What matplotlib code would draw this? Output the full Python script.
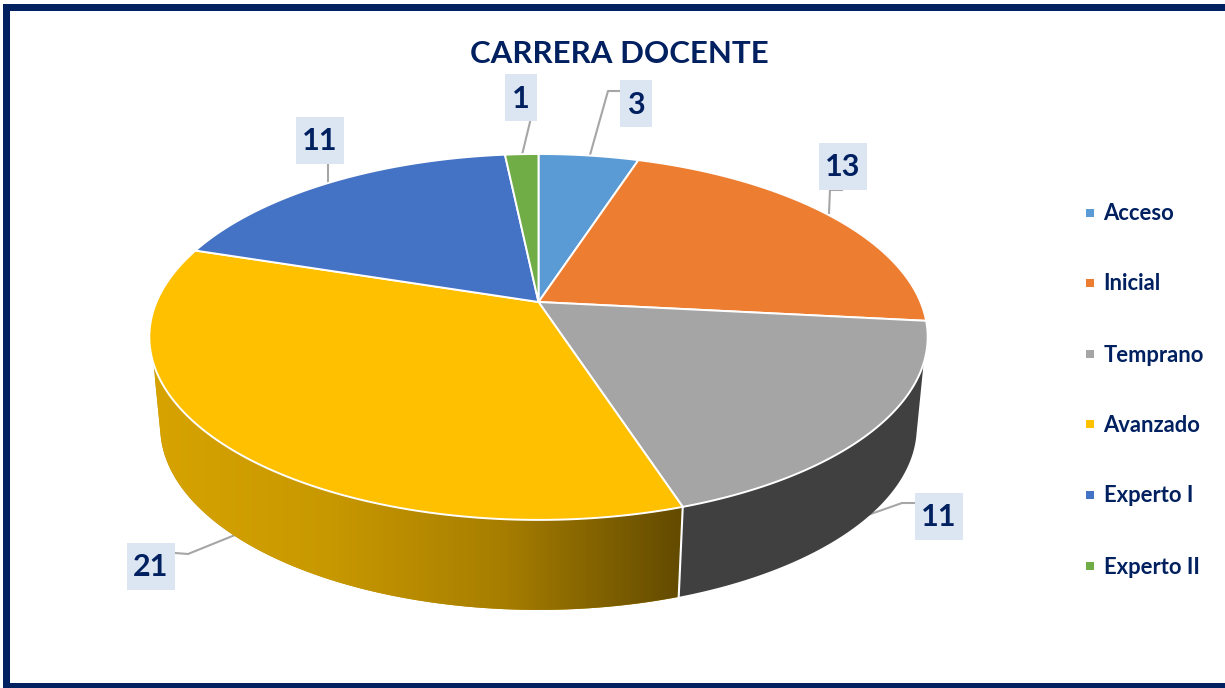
import numpy as np
import matplotlib
matplotlib.use("Agg")
import matplotlib.pyplot as plt
from matplotlib.patches import Polygon, Rectangle
from matplotlib.colors import LinearSegmentedColormap

plt.rcParams["font.family"] = ["Lato", "DejaVu Sans"]

# datos
categorias = ["Acceso", "Inicial", "Temprano", "Avanzado", "Experto I", "Experto II"]
valores = [3, 13, 11, 21, 11, 1]
colores = ["#5B9BD5", "#ED7D31", "#A5A5A5", "#FFC000", "#4472C4", "#70AD47"]
titulo = "CARRERA DOCENTE"

NAVY = "#002060"
W, H = 1225, 688

# pie en perspectiva, todo en pixeles
APEX_X, APEX_Y = 538.5, 302.0
Q, P, C = 382.0, -118.6, 0.191
PROF = 90.0
ESC_BASE = 0.972


def borde(theta):
    u, v = np.sin(theta), np.cos(theta)
    d = 1 + C * v
    return APEX_X + Q * u / d, (APEX_Y + P * v) / d


def borde_base(theta):
    x, y = borde(theta)
    return APEX_X + ESC_BASE * (x - APEX_X), y + PROF


def lado(t0, t1, color, y_top=363.0, y_base=436.0):
    # cara lateral entre dos angulos
    t = np.linspace(t0, t1, 300)
    xt, yt = borde(t)
    xb, yb = borde_base(t)
    m1, m2 = yt >= y_top, yb >= y_base
    pts = np.vstack([np.c_[xt[m1], yt[m1]], np.c_[xb[m2], yb[m2]][::-1]])
    return Polygon(pts, closed=True, facecolor=color, edgecolor="none", zorder=2)


fig = plt.figure(figsize=(W / 100, H / 100), dpi=100)
ax = fig.add_axes([0, 0, 1, 1])
ax.set_xlim(0, W)
ax.set_ylim(H, 0)
ax.axis("off")

# marco: arriba, izquierda y abajo
ax.add_patch(Rectangle((3, 4), W - 3, 7, facecolor=NAVY, edgecolor="none", zorder=1))
ax.add_patch(Rectangle((3, 4), 7, H - 4, facecolor=NAVY, edgecolor="none", zorder=1))
ax.add_patch(Rectangle((3, 683), W - 3, 5, facecolor=NAVY, edgecolor="none", zorder=1))

acum = np.cumsum([0] + valores) / sum(valores) * 2 * np.pi

# lados visibles: Temprano y Avanzado
i_t, i_a = categorias.index("Temprano"), categorias.index("Avanzado")
ax.add_patch(lado(acum[i_t], acum[i_t + 1], "#404040"))
pat = lado(acum[i_a], acum[i_a + 1], "#BF9000")
ax.add_patch(pat)
grad = LinearSegmentedColormap.from_list("g", ["#D6A300", "#C89800", "#A67D00", "#624A00"])
im = ax.imshow(np.linspace(0, 1, 256).reshape(1, -1), cmap=grad, extent=(155, 682, 620, 350),
               aspect="auto", zorder=2.5)
im.set_clip_path(pat)
ax.set_xlim(0, W)
ax.set_ylim(H, 0)

# separador del lado
tsep = acum[i_a]
xa, ya = borde(tsep)
xb, yb = borde_base(tsep)
ax.plot([xa, xb], [ya, yb], color="white", lw=1.5, zorder=3)

# sectores de arriba
for k, col in enumerate(colores):
    t = np.linspace(acum[k], acum[k + 1], 200)
    x, y = borde(t)
    pts = np.vstack([[APEX_X, APEX_Y], np.c_[x, y]])
    ax.add_patch(Polygon(pts, closed=True, facecolor=col, edgecolor="white", linewidth=1.4,
                         joinstyle="round", zorder=4))

# etiquetas: centro de caja y linea guia en pixeles
pos_etiquetas = [(636, 103), (843, 166), (939, 516), (151, 566), (320, 140), (521, 97)]
guias = [
    [(620, 91), (608, 91), (590, 155)],
    [(842, 190), (830, 190), (829, 213)],
    [(915, 503), (902, 503), (865, 516)],
    [(175, 553), (188, 554), (235, 535)],
    [(328, 163), (328, 183)],
    [(530, 122), (522, 155)],
]
for v, (cx, cy), g in zip(valores, pos_etiquetas, guias):
    gx, gy = zip(*g)
    ax.plot(gx, gy, color="#A6A6A6", lw=1.5, zorder=1.5)
    ancho = 48 if v > 9 else 32
    ax.add_patch(Rectangle((cx - ancho / 2, cy - 23.5), ancho, 47, facecolor="#DCE6F2", edgecolor="none", zorder=5))
    ax.text(cx, cy + 1.5, str(v), color=NAVY, fontsize=22, fontweight="bold", ha="center", va="center", zorder=6)

ax.text(619, 54, titulo, color=NAVY, fontsize=22.5, fontweight="bold", ha="center", va="center", zorder=6)

# leyenda
ley_y = [213, 283, 354, 424, 495, 566]
for nombre, col, y in zip(categorias, colores, ley_y):
    ax.add_patch(Rectangle((1086, y - 4), 8, 8, facecolor=col, edgecolor="none", zorder=6))
    ax.text(1103.5, y + 1, nombre, color=NAVY, fontsize=15.8, fontweight="bold", ha="left", va="center", zorder=6)

fig.savefig("out.png", dpi=100)
